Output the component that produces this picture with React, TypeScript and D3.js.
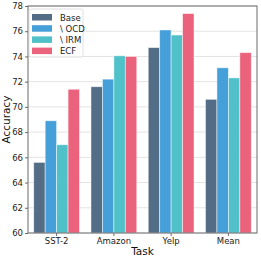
import React, { useRef, useEffect } from 'react';
import * as d3 from 'd3';

const tasks = ['SST-2', 'Amazon', 'Yelp', 'Mean'];
const methods = ['Base', '\\ OCD', '\\ IRM', 'ECF'];
const colors = ['#536d87', '#45a0d9', '#50c1c8', '#ea627b'];

// accuracy per method, one value per task
const baseVals = [65.6, 71.6, 74.7, 70.6];
const ocdVals = [68.9, 72.2, 76.1, 73.1];
const irmVals = [67.0, 74.05, 75.7, 72.3];
const ecfVals = [71.4, 74.0, 77.4, 74.3];

const yTicks = [60, 62, 64, 66, 68, 70, 72, 74, 76, 78];

const W = 261;
const H = 260;
const margin = { top: 6, right: 4, bottom: 27, left: 28 };

export default function App() {
  const svgRef = useRef<SVGSVGElement>(null);

  useEffect(() => {
    const svg = d3.select(svgRef.current);
    svg.selectAll('*').remove();

    const series = [baseVals, ocdVals, irmVals, ecfVals];
    const font = 'DejaVu Sans, sans-serif';

    const x0 = d3.scaleBand<string>()
      .domain(tasks)
      .range([margin.left, W - margin.right])
      .paddingInner(0.2)
      .paddingOuter(0.1);
    const x1 = d3.scaleBand<string>()
      .domain(methods)
      .range([0, x0.bandwidth()]);
    const y = d3.scaleLinear().domain([60, 78]).range([H - margin.bottom, margin.top]);

    // grid
    svg.append('g')
      .selectAll('line')
      .data(yTicks)
      .join('line')
      .attr('x1', margin.left)
      .attr('x2', W - margin.right)
      .attr('y1', d => y(d))
      .attr('y2', d => y(d))
      .attr('stroke', '#e3e3e3')
      .attr('stroke-width', 1);

    // bars
    tasks.forEach((t, ti) => {
      const g = svg.append('g').attr('transform', `translate(${x0(t)},0)`);
      methods.forEach((m, mi) => {
        const v = series[mi][ti];
        g.append('rect')
          .attr('x', x1(m)!)
          .attr('width', x1.bandwidth())
          .attr('y', y(v))
          .attr('height', y(60) - y(v))
          .attr('fill', colors[mi])
          .attr('stroke', '#ffffff')
          .attr('stroke-opacity', 0.6)
          .attr('stroke-width', 0.8);
      });
    });

    // frame
    svg.append('rect')
      .attr('x', margin.left)
      .attr('y', margin.top)
      .attr('width', W - margin.left - margin.right)
      .attr('height', H - margin.top - margin.bottom)
      .attr('fill', 'none')
      .attr('stroke', '#6b6b6b')
      .attr('stroke-width', 1);

    // y axis
    const yAxis = svg.append('g')
      .attr('transform', `translate(${margin.left},0)`)
      .call(d3.axisLeft(y).tickValues(yTicks).tickSize(3).tickPadding(2));
    yAxis.select('.domain').remove();
    yAxis.selectAll('line').attr('stroke', '#6b6b6b');
    yAxis.selectAll('text').attr('font-family', font).attr('font-size', 8.5).attr('fill', '#222');

    // x axis
    const xAxis = svg.append('g')
      .attr('transform', `translate(0,${H - margin.bottom})`)
      .call(d3.axisBottom(x0).tickSize(3).tickPadding(2));
    xAxis.select('.domain').remove();
    xAxis.selectAll('line').attr('stroke', '#6b6b6b');
    xAxis.selectAll('text').attr('font-family', font).attr('font-size', 8.5).attr('fill', '#222');

    // axis titles
    svg.append('text')
      .attr('x', (margin.left + W - margin.right) / 2)
      .attr('y', H - 5)
      .attr('text-anchor', 'middle')
      .attr('font-family', font)
      .attr('font-size', 10.5)
      .attr('fill', '#111')
      .text('Task');
    svg.append('text')
      .attr('transform', `translate(10,${(margin.top + H - margin.bottom) / 2}) rotate(-90)`)
      .attr('text-anchor', 'middle')
      .attr('font-family', font)
      .attr('font-size', 10.5)
      .attr('fill', '#111')
      .text('Accuracy');

    // legend
    const lg = svg.append('g').attr('transform', `translate(${margin.left + 1},${margin.top + 3})`);
    lg.append('rect')
      .attr('width', 54)
      .attr('height', 48)
      .attr('rx', 2)
      .attr('fill', '#fff')
      .attr('fill-opacity', 0.85)
      .attr('stroke', '#d8d8d8')
      .attr('stroke-width', 0.8);
    methods.forEach((m, i) => {
      const row = lg.append('g').attr('transform', `translate(3,${5 + i * 11.2})`);
      row.append('rect')
        .attr('width', 20)
        .attr('height', 6.5)
        .attr('fill', colors[i]);
      row.append('text')
        .attr('x', 28)
        .attr('y', 6.5)
        .attr('font-family', font)
        .attr('font-size', 8.5)
        .attr('fill', '#222')
        .text(m);
    });
  }, []);

  return (
    <div style={{ position: 'absolute', left: 0, top: 0 }}>
      <svg ref={svgRef} width={W} height={H} />
    </div>
  );
}
